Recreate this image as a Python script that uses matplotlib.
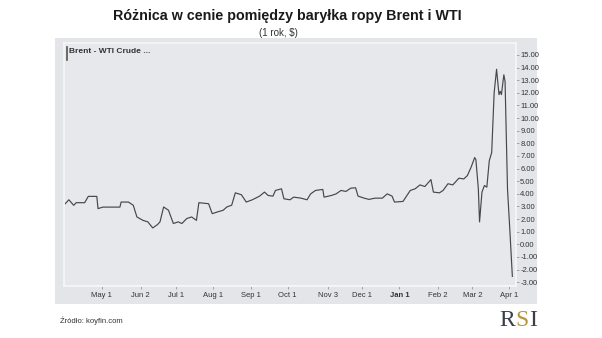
import numpy as np
import pandas as pd
import matplotlib
matplotlib.use("Agg")
import matplotlib.pyplot as plt

# Brent - WTI spread
dates = ["2025-04-01", "2025-04-04", "2025-04-08", "2025-04-10", "2025-04-17", "2025-04-20",
         "2025-04-27", "2025-04-28", "2025-05-02", "2025-05-16", "2025-05-17", "2025-05-23",
         "2025-05-27", "2025-05-30", "2025-06-04", "2025-06-08", "2025-06-12", "2025-06-16",
         "2025-06-18", "2025-06-21", "2025-06-25", "2025-06-29", "2025-07-03", "2025-07-06",
         "2025-07-10", "2025-07-14", "2025-07-18", "2025-07-20", "2025-07-28", "2025-07-31",
         "2025-08-04", "2025-08-09", "2025-08-12", "2025-08-16", "2025-08-19", "2025-08-24",
         "2025-08-28", "2025-09-02", "2025-09-08", "2025-09-12", "2025-09-15", "2025-09-19",
         "2025-09-21", "2025-09-26", "2025-09-28", "2025-10-03", "2025-10-06", "2025-10-12",
         "2025-10-17", "2025-10-20", "2025-10-24", "2025-10-30", "2025-10-31", "2025-11-06",
         "2025-11-10", "2025-11-14", "2025-11-18", "2025-11-22", "2025-11-26", "2025-11-28",
         "2025-12-03", "2025-12-07", "2025-12-12", "2025-12-18", "2025-12-22", "2025-12-26",
         "2025-12-28", "2026-01-04", "2026-01-10", "2026-01-14", "2026-01-18", "2026-01-22",
         "2026-01-27", "2026-01-29", "2026-02-03", "2026-02-06", "2026-02-10", "2026-02-14",
         "2026-02-19", "2026-02-23", "2026-02-26", "2026-03-01", "2026-03-04", "2026-03-05",
         "2026-03-07", "2026-03-08", "2026-03-10", "2026-03-12", "2026-03-14", "2026-03-16",
         "2026-03-18", "2026-03-20", "2026-03-22", "2026-03-24", "2026-03-25", "2026-03-26",
         "2026-03-28", "2026-03-29", "2026-03-31", "2026-04-02", "2026-04-04"]
spread = [3.22, 3.53, 3.09, 3.30, 3.30, 3.80,
          3.80, 2.83, 2.95, 2.95, 3.35, 3.35,
          3.10, 2.17, 1.90, 1.78, 1.30, 1.57,
          1.78, 2.96, 2.70, 1.65, 1.78, 1.65,
          2.04, 2.17, 1.90, 3.30, 3.22, 2.43,
          2.56, 2.70, 2.96, 3.10, 4.08, 3.93,
          3.35, 3.53, 3.82, 4.14, 3.87, 3.82,
          4.27, 4.40, 3.61, 3.53, 3.74, 3.66,
          3.53, 4.00, 4.27, 4.35, 3.74, 3.87,
          4.00, 4.27, 4.19, 4.45, 4.48, 3.82,
          3.66, 3.56, 3.66, 3.66, 4.00, 3.82,
          3.35, 3.40, 4.27, 4.40, 4.71, 4.58,
          5.13, 4.14, 4.08, 4.27, 4.80, 4.71,
          5.24, 5.18, 5.45, 6.10, 6.88, 6.70,
          4.40, 1.78, 4.14, 4.66, 4.53, 6.62,
          7.28, 11.99, 13.87, 11.86, 12.12, 11.86,
          13.43, 12.90, 4.40, 1.00, -2.54]

tick_dates = ["2025-05-01", "2025-06-02", "2025-07-01", "2025-08-01", "2025-09-01", "2025-10-01",
              "2025-11-03", "2025-12-01", "2026-01-01", "2026-02-02", "2026-03-02", "2026-04-01"]
tick_labels = ["May 1", "Jun 2", "Jul 1", "Aug 1", "Sep 1", "Oct 1",
               "Nov 3", "Dec 1", "Jan 1", "Feb 2", "Mar 2", "Apr 1"]
y_ticks = np.arange(-3, 16, 1)

plt.rcParams['font.family'] = ['Liberation Sans', 'DejaVu Sans']

fig = plt.figure(figsize=(6.02, 3.38), dpi=100)
fig.patch.set_facecolor('white')

# szare tlo panelu (osobne osie pod wykresem)
bg = fig.add_axes([55 / 602, 1 - 304 / 338, (537 - 55) / 602, (304 - 38) / 338], zorder=-5)
bg.set_facecolor('#e3e5e9')
bg.set_xticks([])
bg.set_yticks([])
for s in bg.spines.values():
    s.set_visible(False)

ax = fig.add_axes([64 / 602, 1 - 286 / 338, (516 - 64) / 602, (286 - 43) / 338])
ax.set_facecolor('#e6e8ec')
for s in ax.spines.values():
    s.set_color('#f7f7f7')
    s.set_linewidth(1.2)

x = pd.to_datetime(dates)
ax.plot(x, spread, color='#474747', lw=0.85)

ax.set_xlim(pd.Timestamp("2025-03-31"), pd.Timestamp("2026-04-07"))
ax.set_ylim(-3.3, 15.95)

ax.yaxis.tick_right()
ax.set_yticks(y_ticks)
ax.set_yticklabels(["%.2f" % v for v in y_ticks], fontsize=5.5, color='#333333')
ax.tick_params(axis='y', length=2, width=0.5, color='#888888', pad=1)

ax.set_xticks(pd.to_datetime(tick_dates))
ax.set_xticklabels(tick_labels, fontsize=5.5, color='#333333')
ax.tick_params(axis='x', length=2, width=0.5, color='#888888', pad=2)
for lbl in ax.get_xticklabels():
    if lbl.get_text() == "Jan 1":
        lbl.set_fontweight('bold')

# etykieta serii
ax.text(0.012, 0.978, "Brent - WTI Crude ...", transform=ax.transAxes, fontsize=6,
        fontweight='bold', color='#333333', va='top', ha='left')
ax.plot([0.006, 0.006], [0.93, 0.985], transform=ax.transAxes, color='#555555', lw=1.2)

fig.text(287 / 602, 1 - 16 / 338, "Różnica w cenie pomiędzy baryłka ropy Brent i WTI",
         fontsize=10.3, fontweight='bold', ha='center', va='center', color='#1a1a1a')
fig.text(278 / 602, 1 - 33 / 338, "(1 rok, $)", fontsize=7, ha='center', va='center', color='#333333')
fig.text(60 / 602, 1 - 321 / 338, "Źródło: koyfin.com", fontsize=5.5, ha='left', va='center', color='#333333')

# logo RSI
fig.text(499 / 602, 1 - 321 / 338, "R", fontsize=17, family='Liberation Serif', color='#3a3f4a',
         ha='left', va='center')
fig.text(515 / 602, 1 - 321 / 338, "S", fontsize=17, family='Liberation Serif', color='#b8963a',
         ha='left', va='center')
fig.text(529 / 602, 1 - 321 / 338, "I", fontsize=17, family='Liberation Serif', color='#3a3f4a',
         ha='left', va='center')

fig.savefig("out.png", dpi=100)
